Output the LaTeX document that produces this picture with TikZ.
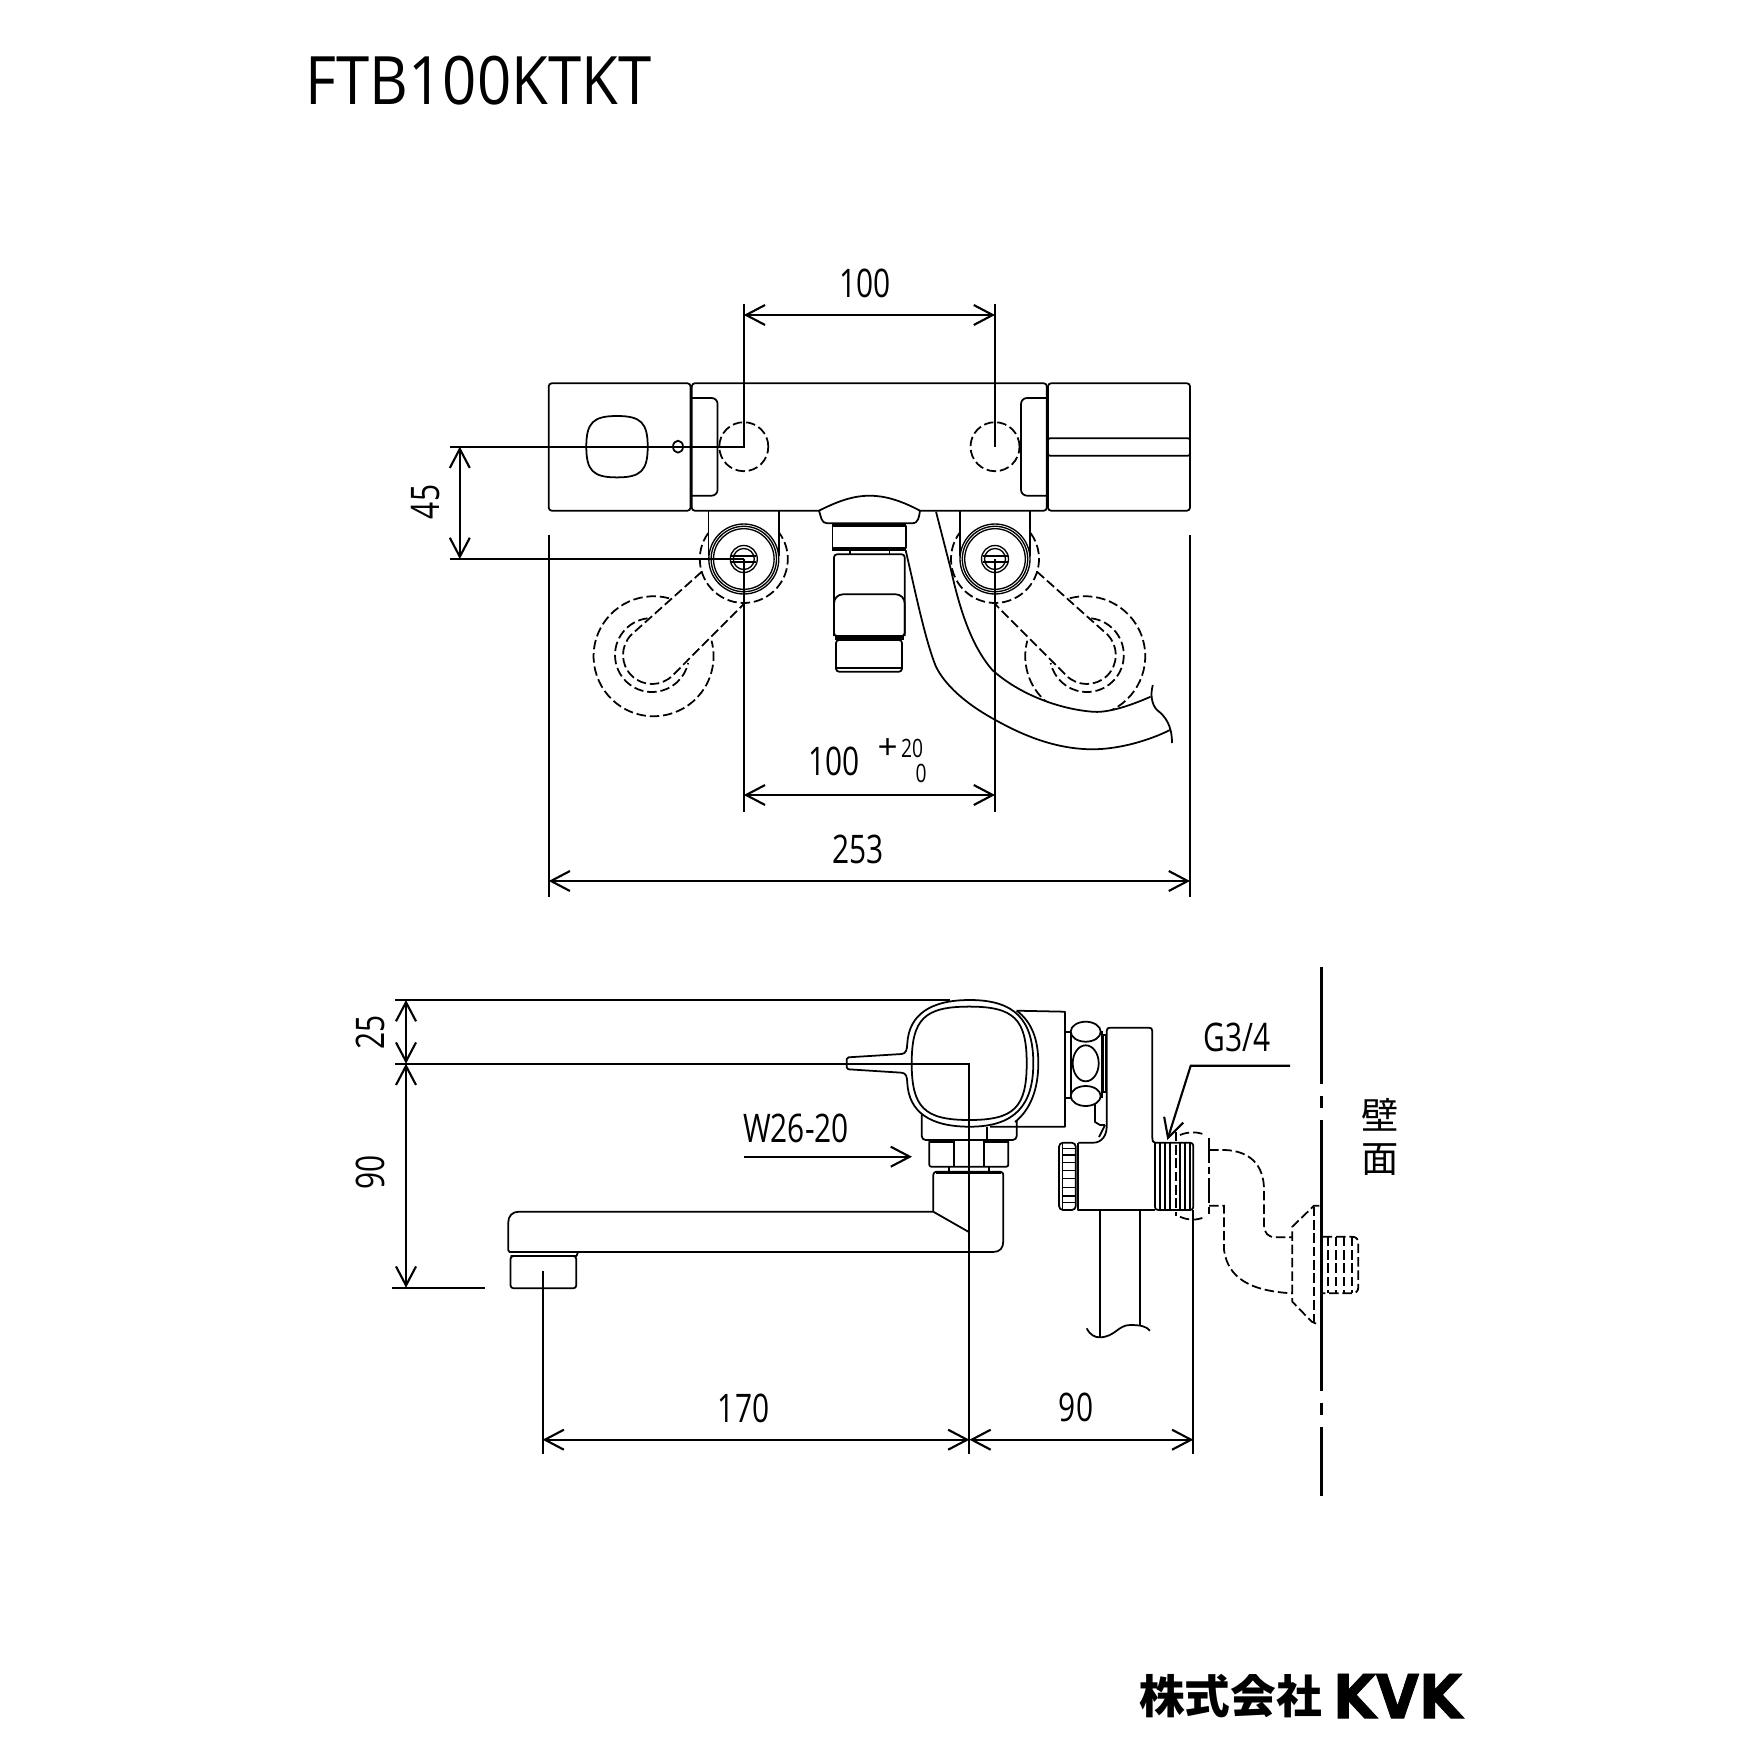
\documentclass[tikz,border=0pt]{standalone}
\usepackage{fontspec}
\usepackage{tikz}
\usetikzlibrary{arrows.meta}
\newfontfamily\medidafont{Open Sans}[FakeStretch=0.76]
\newfontfamily\titulofont{Open Sans}[FakeStretch=0.897]
\newfontfamily\sinalfont{Open Sans}
\newfontfamily\cjkfont{Noto Sans CJK JP}
\newfontfamily\logofont{DejaVu Sans}[FakeStretch=0.92,BoldFeatures={FakeBold=1.5}]
\tikzset{
	outline/.style={line width=0.5pt, line join=round},
	fine/.style={line width=0.38pt},
	hidden/.style={line width=0.5pt, dash pattern=on 2.7pt off 1.1pt},
	extline/.style={line width=0.55pt},
	dimline/.style={line width=0.6pt, >={Straight Barb[length=1.9mm,width=2mm]}},
	medida/.style={inner sep=0pt, font=\medidafont\fontsize{11.2}{13}\selectfont},
	medidamin/.style={inner sep=0pt, font=\medidafont\fontsize{7.2}{9}\selectfont}
}
% Curva do quadrado arredondado
\newcommand{\quadrado}[1]{\draw[outline,#1] (0,-1) .. controls (.78,-1) and (1,-.78) .. (1,0) .. controls (1,.78) and (.78,1) .. (0,1) .. controls (-.78,1) and (-1,.78) .. (-1,0) .. controls (-1,-.78) and (-.78,-1) .. (0,-1) -- cycle;}
% Alca tracejada
\newcommand{\alca}{
	\draw[hidden] (708.2,533.1) arc[start angle=144,end angle=396,radius=4.4mm];
	\draw[hidden] (701.8,571.7) -- (631.5,634.5) arc[start angle=135,end angle=315,radius=2.9mm] -- (743.8,604);
	\draw[hidden] (647.5,618.3) arc[start angle=97,end angle=347.5,radius=3.7mm];
	\draw[hidden] (669.1,598.3) arc[start angle=75,end angle=375,radius=6mm];
}
% Porca do pivo
\newcommand{\pivo}[1]{
	\draw[outline] (#1-35.2,510.7) -- (#1-35.2,556) (#1+35,510.7) -- (#1+35,556);
	\draw[fine,fill=white] (#1,559) circle[radius=3.5mm];
	\draw[fine] (#1,559) circle[radius=3.27mm];
	\draw[fine] (#1,559) circle[radius=3.03mm];
	\draw[fine] (#1,559) circle[radius=1.35mm];
	\draw[fine] (#1,559) circle[radius=1.05mm];
	\draw[outline] (#1-12.5,556.3) -- (#1+12.5,556.3) (#1-12.5,562) -- (#1+12.5,562);
}
\begin{document}
\begin{tikzpicture}[x=0.1mm,y=-0.1mm]
	\useasboundingbox (0,0) rectangle (1754,1754);
	\node[inner sep=0pt, font=\titulofont\fontsize{19}{22}\selectfont] (titulo) at (478.5,81) {FTB100KTKT};

	% Alcas tracejadas
	\alca
	\begin{scope}[shift={(1738.8,0)},xscale=-1]
		\alca
	\end{scope}

	% Mangueira
	\fill[white] (905.6,550) .. controls (915,590) and (925,640) .. (936,666.7) .. controls (945,685) and (965,703) .. (992.3,718.3) .. controls (1015,731) and (1050,749) .. (1092,749.3) .. controls (1120,749.3) and (1150,740) .. (1170,730) -- (1150.6,696.7) .. controls (1125,708) and (1105,713) .. (1092,711.7) .. controls (1060,709) and (1020,695) .. (992.3,670) .. controls (975,650) and (962,620) .. (951,570) -- (936,511.7) -- cycle;
	\draw[outline] (905.6,550) .. controls (915,590) and (925,640) .. (936,666.7) .. controls (945,685) and (965,703) .. (992.3,718.3) .. controls (1015,731) and (1050,749) .. (1092,749.3) .. controls (1120,749.3) and (1150,740) .. (1170,730);
	\draw[outline] (936,511.7) -- (951,570) .. controls (962,620) and (975,650) .. (992.3,670) .. controls (1020,695) and (1060,709) .. (1092,711.7) .. controls (1105,713) and (1125,708) .. (1150.6,696.7);
	\draw[outline] (1152.8,685) .. controls (1150,695) and (1152,705) .. (1157,710) .. controls (1165,716) and (1172,725) .. (1172,743);

	% Corpo superior
	\draw[outline,rounded corners=0.3mm] (548.7,383.3) rectangle (690.5,510.7);
	\draw[outline,rounded corners=0.3mm] (691.8,383.3) rectangle (1046.8,510.7);
	\draw[outline,rounded corners=0.3mm] (1048,383.3) rectangle (1190,510.7);
	\draw[outline,rounded corners=0.6mm] (691.8,398) -- (717.6,398) -- (717.6,495.7) -- (691.8,495.7);
	\draw[outline,rounded corners=0.6mm] (1046.8,398) -- (1021,398) -- (1021,495.7) -- (1046.8,495.7);
	\draw[outline,rounded corners=0.2mm] (1048,438.3) rectangle (1190,455.7);
	\begin{scope}[shift={(617,446.7)},scale=30.7]
		\quadrado{}
	\end{scope}
	\draw[outline] (678,446.7) ellipse[x radius=0.5mm,y radius=0.6mm];
	\draw[hidden] (743.8,446.7) circle[radius=2.45mm];
	\draw[hidden] (995,446.7) circle[radius=2.45mm];

	% Bico central
	\draw[outline,fill=white] (819,510.7) .. controls (840,500) and (855,495.7) .. (869.6,495.7) .. controls (884,495.7) and (900,500) .. (920,510.7) .. controls (919,516) and (919,523.3) .. (912,523.3) -- (827,523.3) .. controls (821,523.3) and (821,516) .. (819,510.7) -- cycle;
	\draw[line width=0.9pt] (832.4,524.6) -- (906.3,524.6) (832.4,549.3) -- (906.3,549.3);
	\draw[outline,fill=white] (832.4,525.7) rectangle (906.3,548.3);
	\draw[outline] (849.9,550.6) -- (849.9,554.3) (889.4,550.6) -- (889.4,554.3);
	\draw[outline,fill=white,rounded corners=0.3mm] (834,554.3) rectangle (904.7,636);
	\draw[outline,rounded corners=0.9mm] (834,636) -- (834,594.3) -- (904.7,594.3) -- (904.7,636);
	\draw[line width=0.9pt] (835,638) -- (903.5,638);
	\draw[outline,rounded corners=0.3mm] (836,640) rectangle (902,671.7);
	\draw[fine] (836,668) -- (902,668);

	% Porcas
	\pivo{743.8}
	\pivo{995}

	% Cotas superiores
	\draw[extline] (743.8,304) -- (743.8,446.7) -- (450,446.7);
	\draw[extline] (995,304) -- (995,446.7);
	\draw[dimline,<->] (743.8,315) -- (995,315);
	\node[medida] (cotaA) at (865,283.7) {100};
	\draw[extline] (743.8,559) -- (450,559);
	\draw[dimline,<->] (459.8,446.7) -- (459.8,559);
	\node[medida,rotate=90] (cotaB) at (426,502) {45};
	\draw[extline] (743.8,559) -- (743.8,812.3);
	\draw[extline] (995,559) -- (995,812.3);
	\draw[dimline,<->] (743.8,795) -- (995,795);
	\node[medida] (cotaC) at (834.4,761.7) {100};
	\node[inner sep=0pt, font=\sinalfont\fontsize{10}{12}\selectfont] (cotaCmais) at (887.6,749) {+};
	\node[medidamin] (cotaCsup) at (912,748.7) {20};
	\node[medidamin] (cotaCinf) at (921,773.3) {0};
	\draw[extline] (548.7,535) -- (548.7,896.7);
	\draw[extline] (1190,535) -- (1190,896.7);
	\draw[dimline,<->] (548.7,881) -- (1190,881);
	\node[medida] (cotaD) at (858,849) {253};

	% Bica
	\draw[outline,rounded corners=0.3mm] (933.3,1211.7) -- (933.3,1171.7) -- (1003.3,1171.7) -- (1003.3,1225);
	\draw[outline] (933.3,1211.7) -- (519,1211.7) .. controls (512,1211.7) and (508.2,1216) .. (508.2,1223) -- (508.2,1250) -- (509.5,1252) -- (993,1252) .. controls (1000,1252) and (1003.3,1248) .. (1003.3,1241) -- (1003.3,1225);
	\draw[outline] (933.3,1211.7) -- (968.3,1231.7);
	\draw[outline] (509.5,1252) -- (578,1252) -- (576.5,1256) -- (510.5,1256);
	\draw[outline,rounded corners=0.3mm] (510.5,1256) rectangle (576.3,1288.3);
	\draw[outline] (949.3,1166.7) -- (949.3,1171.7) (989,1166.7) -- (989,1171.7);
	\draw[line width=0.9pt] (936,1172.3) -- (1001,1172.3);

	% Porca da bica
	\draw[outline,rounded corners=0.2mm] (929.3,1140) rectangle (1008.3,1166.7);
	\draw[outline] (954,1140) -- (954,1166.7) (984,1140) -- (984,1166.7);
	\draw[line width=0.9pt] (930,1141.5) -- (954,1141.5) (984,1141.5) -- (1008,1141.5);

	% Bloco e manopla
	\draw[outline,rounded corners=0.4mm] (921.7,1110) -- (921.7,1140) -- (1016.7,1140) -- (1016.7,1120);
	\draw[outline] (986.7,1126.7) -- (986.7,1140);
	\draw[outline] (1016.7,1010.7) -- (1065,1011.7) -- (1065,1126.7) -- (990,1126.7);
	\draw[outline] (1016.7,1010.7) .. controls (1032,1022) and (1038.3,1040) .. (1038.3,1063) .. controls (1038.3,1090) and (1030,1110) .. (1015,1122);
	\draw[outline,fill=white] (848.5,1057.3) -- (901.7,1054) .. controls (906,1053.5) and (907,1050) .. (907.3,1043.3) .. controls (909,1015) and (930,1000) .. (969.7,1000) .. controls (1015,1000) and (1033.3,1020) .. (1033.3,1063.3) .. controls (1033.3,1105) and (1015,1126.7) .. (969.7,1126.7) .. controls (930,1126.7) and (909,1112) .. (907.3,1083.3) .. controls (907,1076) and (906,1073.2) .. (901.7,1072.7) -- (848.5,1069.3) -- (846.7,1067.5) -- (846.7,1059) -- cycle;
	\begin{scope}[shift={(969.2,1063.3)},xscale=57.5,yscale=56.7]
		\quadrado{}
	\end{scope}

	% Uniao
	\draw[outline] (1065,1031.7) -- (1070.7,1031.7) (1065,1098.3) -- (1070.7,1098.3);
	\draw[outline] (1070.7,1031) -- (1070.7,1098) (1101.7,1031) -- (1101.7,1098);
	\draw[outline,fill=white] (1085.7,1031.7) ellipse[x radius=1.5mm,y radius=1mm];
	\draw[outline] (1085.7,1063.3) ellipse[x radius=1.3mm,y radius=1.8mm];
	\draw[outline,fill=white] (1085.7,1096) ellipse[x radius=1.5mm,y radius=1mm];
	\draw[outline] (1102.7,1035) rectangle (1106,1091.7);
	\draw[outline] (1095,1103) -- (1095,1122) -- (1100,1125) -- (1105,1125) (1105,1125) -- (1099,1137);

	% Suporte
	\draw[outline] (1078.3,1142.7) -- (1093.3,1142.7) .. controls (1102,1142.7) and (1106.7,1135) .. (1106.7,1126.7) -- (1106.7,1031) .. controls (1106.7,1028.5) and (1108,1027.7) .. (1110,1027.7) -- (1149,1027.7) .. controls (1151,1027.7) and (1152.3,1028.5) .. (1152.3,1031) -- (1152.3,1137) .. controls (1152.3,1141) and (1153,1142.7) .. (1155,1142.7);
	\draw[outline] (1078.3,1142.7) -- (1078.3,1210) -- (1155,1210);
	\draw[outline,rounded corners=0.4mm] (1075.8,1142.7) -- (1059,1142.7) -- (1059,1210) -- (1075.8,1210) -- cycle;
	\draw[fine] (1062.3,1142.7) -- (1062.3,1210);
	\draw[fine] (1062.3,1148.3) -- (1075.8,1148.3) (1062.3,1155) -- (1075.8,1155) (1062.3,1162.7) -- (1075.8,1162.7) (1062.3,1170.7) -- (1075.8,1170.7) (1062.3,1178.3) -- (1075.8,1178.3) (1062.3,1187.3) -- (1075.8,1187.3) (1062.3,1196) -- (1075.8,1196) (1062.3,1202.7) -- (1075.8,1202.7);

	% Rosca
	\draw[outline,rounded corners=0.3mm] (1155,1142.7) -- (1193.3,1142.7) -- (1193.3,1210) -- (1155,1210) -- (1155,1142.7);
	\draw[fine] (1160,1142.7) -- (1160,1210) (1165,1142.7) -- (1165,1210) (1170,1142.7) -- (1170,1210) (1180,1142.7) -- (1180,1210) (1185,1142.7) -- (1185,1210) (1190,1142.7) -- (1190,1210);

	% Tubo
	\draw[extline] (1100,1210) -- (1100,1337) (1140,1210) -- (1140,1325);
	\draw[outline] (1086.7,1328.3) .. controls (1090,1335) and (1095,1337.5) .. (1100,1337.3) .. controls (1115,1337) and (1118,1325) .. (1130,1325) .. controls (1140,1325) and (1146,1326) .. (1150,1330.7);

	% Cotovelo tracejado
	\draw[hidden] (1176,1131.7) -- (1176,1216);
	\draw[hidden] (1180,1135) .. controls (1188,1131.5) and (1198,1131.5) .. (1205,1135);
	\draw[hidden] (1180,1216.7) .. controls (1188,1220.5) and (1198,1220.5) .. (1205,1216.7);
	\draw[line width=0.5pt, dash pattern=on 7pt off 1.2pt on 2pt off 1.2pt] (1209,1138) -- (1209,1215);
	\draw[hidden] (1209,1150) -- (1225,1150) .. controls (1250,1151) and (1264,1165) .. (1264,1190) -- (1264,1225) .. controls (1264,1233) and (1268,1237.3) .. (1276,1237.3) -- (1292.3,1237.3);
	\draw[hidden] (1209,1205.7) -- (1224,1205.7) -- (1224,1250) .. controls (1228,1278) and (1250,1291) .. (1292.3,1293.3);
	\draw[hidden] (1319.3,1205.7) -- (1314,1205.7) -- (1292.3,1226.7) -- (1292.3,1301.7) -- (1311.7,1321.7) -- (1319.3,1325);
	\draw[hidden] (1314,1206.7) -- (1314,1323);
	\draw[hidden] (1322.7,1236.7) -- (1352,1236.7) .. controls (1356,1236.7) and (1358.3,1239) .. (1358.3,1243) -- (1358.3,1287) .. controls (1358.3,1291) and (1356,1293.3) .. (1352,1293.3) -- (1322.7,1293.3);
	\draw[hidden] (1328.3,1236.7) -- (1328.3,1293.3) (1336,1236.7) -- (1336,1293.3) (1344,1236.7) -- (1344,1293.3) (1351.7,1236.7) -- (1351.7,1293.3);

	% Parede
	\draw[line width=0.85pt] (1321.7,967.3) -- (1321.7,1084.3) (1321.7,1096) -- (1321.7,1107.7) (1321.7,1120) -- (1321.7,1390.7) (1321.7,1402.7) -- (1321.7,1415) (1321.7,1427.3) -- (1321.7,1495.7);
	\node[inner sep=0pt, font=\cjkfont\fontsize{10.6}{12}\selectfont] (paredeA) at (1380,1115) {壁};
	\node[inner sep=0pt, font=\cjkfont\fontsize{10.6}{12}\selectfont] (paredeB) at (1380,1160) {面};

	% Cotas inferiores
	\draw[extline] (395.3,1000) -- (950,1000);
	\draw[extline] (395.3,1063.7) -- (969.4,1063.7) -- (969.4,1454);
	\draw[extline] (392,1287.7) -- (484.5,1287.7);
	\draw[dimline,<->] (406,1000) -- (406,1063.7);
	\draw[dimline,<->] (406,1063.7) -- (406,1287.7);
	\node[medida,rotate=90] (cotaE) at (370,1032.5) {25};
	\node[medida,rotate=90] (cotaF) at (370,1172) {90};
	\draw[extline] (542.6,1270.7) -- (542.6,1454);
	\draw[extline] (1193.3,1210) -- (1193.3,1454);
	\draw[dimline,<->] (542.6,1439.7) -- (969.4,1439.7);
	\draw[dimline,<->] (969.4,1439.7) -- (1193.3,1439.7);
	\node[medida] (cotaG) at (743.6,1408) {170};
	\node[medida] (cotaH) at (1076,1407) {90};
	\node[medida] (roscaW) at (796,1128) {W26-20};
	\draw[dimline,->] (744.3,1156.7) -- (912,1156.7);
	\node[medida] (roscaG) at (1236.7,1037) {G3/4};
	\draw[dimline,->] (1290,1065.7) -- (1190.7,1065.7) -- (1167.3,1140);

	% Logotipo
	\node[inner sep=0pt, font=\cjkfont\bfseries\fontsize{13}{15}\selectfont] (logoA) at (1230.4,1696) {株式会社};
	\node[inner sep=0pt, font=\logofont\bfseries\fontsize{17.2}{20}\selectfont] (logoB) at (1397.5,1696) {KVK};
\end{tikzpicture}
\end{document}
